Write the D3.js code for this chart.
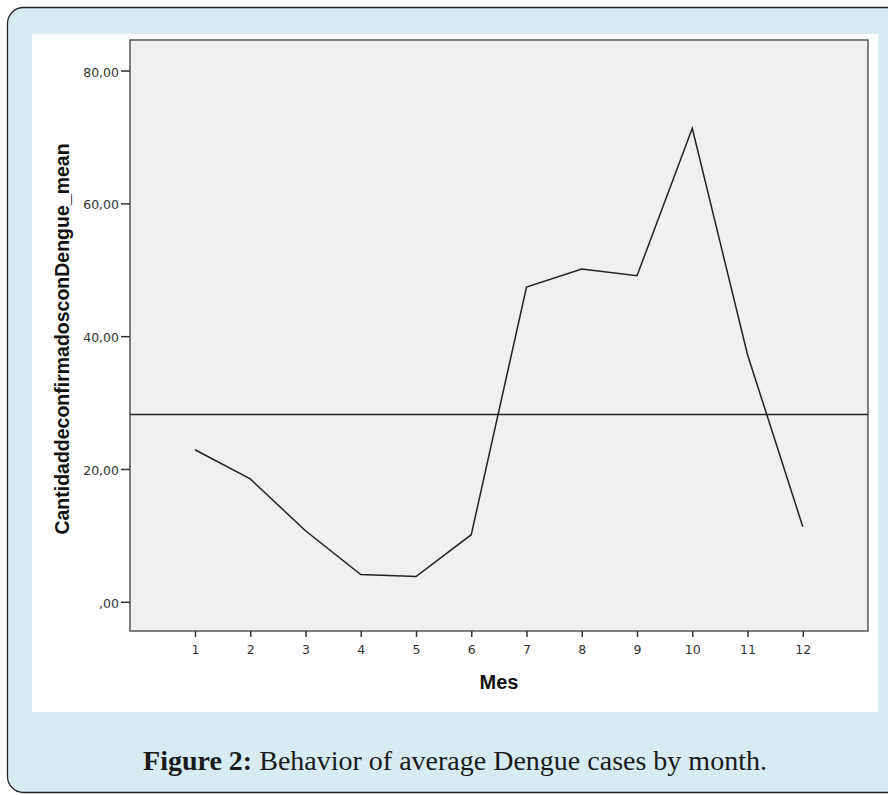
<!DOCTYPE html>
<html><head><meta charset="utf-8">
<script src="https://cdn.jsdelivr.net/npm/d3@7"></script>
<style>html,body{margin:0;padding:0;background:#fff;}svg{display:block;}</style>
</head><body>
<script>
const months = [1,2,3,4,5,6,7,8,9,10,11,12];
const meanCases = [22.9,18.5,10.7,4.1,3.8,10.1,47.4,50.1,49.1,71.3,37.2,11.3];
const referenceLine = 28.2;
const yTickValues = [0,20,40,60,80];
const yTickLabels = [",00","20,00","40,00","60,00","80,00"];
const xTickLabels = ["1","2","3","4","5","6","7","8","9","10","11","12"];
const yTitle = "CantidaddeconfirmadosconDengue_mean";
const xTitle = "Mes";
const captionBold = "Figure 2:";
const captionText = " Behavior of average Dengue cases by month.";

const W = 888, H = 795;
const svg = d3.select("body").append("svg").attr("width", W).attr("height", H);

// outer rounded panel
svg.append("rect").attr("x", 7.5).attr("y", 7.5).attr("width", 900).attr("height", 785)
  .attr("rx", 16).attr("fill", "#d8ebf1").attr("stroke", "#222").attr("stroke-width", 1.3);
// white image area
svg.append("rect").attr("x", 32).attr("y", 34).attr("width", 846).attr("height", 678).attr("fill", "#fff");

const x = d3.scaleLinear().domain([-0.176, 13.18]).range([130, 868]);
const y = d3.scaleLinear().domain([-4.4, 84.6]).range([631, 40]);

// plot frame
svg.append("rect").attr("x", x(-0.176)).attr("y", y(84.6))
  .attr("width", x(13.18) - x(-0.176)).attr("height", y(-4.4) - y(84.6))
  .attr("fill", "#f0f0f0").attr("stroke", "#555").attr("stroke-width", 1.5);

const tickFont = "DejaVu Sans, Verdana, sans-serif";

// y axis
const yAxis = d3.axisLeft(y).tickValues(yTickValues).tickSize(9).tickPadding(2)
  .tickFormat((d, i) => yTickLabels[i]);
const gy = svg.append("g").attr("transform", `translate(${x(-0.176)},0)`).call(yAxis);
gy.select(".domain").remove();
gy.selectAll(".tick line").attr("stroke", "#333").attr("stroke-width", 1.5);
gy.selectAll(".tick text").attr("fill", "#333").attr("dy", "0.45em")
  .style("font-family", tickFont).style("font-size", "12.5px");

// x axis
const xAxis = d3.axisBottom(x).tickValues(months).tickSize(6).tickPadding(8)
  .tickFormat((d, i) => xTickLabels[i]);
const gx = svg.append("g").attr("transform", `translate(0,${y(-4.4)})`).call(xAxis);
gx.select(".domain").remove();
gx.selectAll(".tick line").attr("stroke", "#333").attr("stroke-width", 1.5);
gx.selectAll(".tick text").attr("fill", "#333")
  .style("font-family", tickFont).style("font-size", "12.5px");

// titles
svg.append("text").attr("x", 499).attr("y", 689).attr("text-anchor", "middle")
  .style("font-family", "Liberation Sans, Arial, sans-serif").style("font-size", "20px").style("font-weight", "bold")
  .attr("fill", "#111").text(xTitle);
svg.append("text").attr("transform", "translate(69,339) rotate(-90)").attr("text-anchor", "middle")
  .style("font-family", "Liberation Sans, Arial, sans-serif").style("font-size", "19.5px").style("font-weight", "bold")
  .attr("fill", "#111").text(yTitle);

// reference line
svg.append("line").attr("x1", x(-0.176)).attr("x2", x(13.18))
  .attr("y1", y(referenceLine)).attr("y2", y(referenceLine))
  .attr("stroke", "#222").attr("stroke-width", 1.5);

// data line
const line = d3.line().x((d, i) => x(months[i])).y(d => y(d));
svg.append("path").datum(meanCases).attr("d", line).attr("fill", "none")
  .attr("stroke", "#222").attr("stroke-width", 1.5);

// caption
const cap = svg.append("text").attr("x", 455).attr("y", 770).attr("text-anchor", "middle")
  .style("font-family", "Liberation Serif, 'Times New Roman', serif").style("font-size", "28px").attr("fill", "#1a1a1a");
cap.append("tspan").style("font-weight", "bold").text(captionBold);
cap.append("tspan").text(captionText);
</script>
</body></html>
